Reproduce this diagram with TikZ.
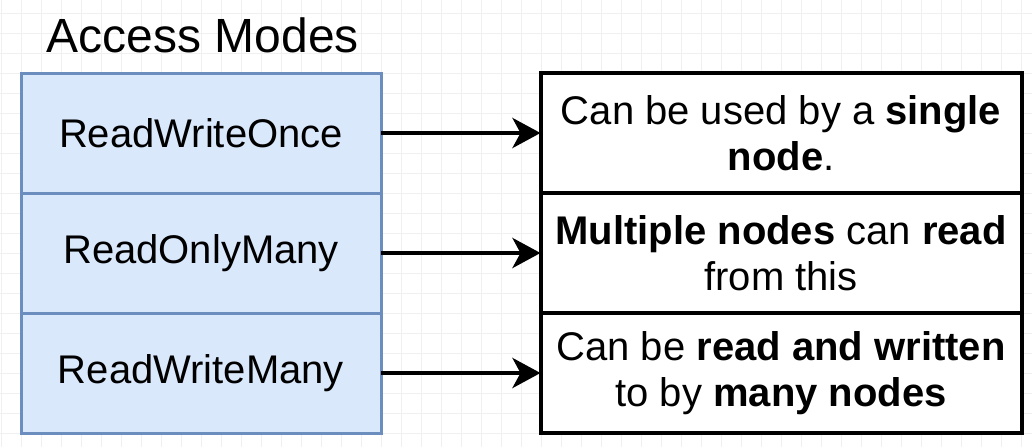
\documentclass[tikz,border=0pt]{standalone}
\usepackage{fontspec}
\setmainfont{Liberation Sans}
\usetikzlibrary{arrows.meta, positioning}
\definecolor{modefill}{HTML}{DAE8FC}
\definecolor{modeline}{HTML}{6C8EBF}
\definecolor{gridgray}{HTML}{F0F0F0}

\begin{document}
\begin{tikzpicture} [x=1pt, y=-1pt,
  mode/.style = {draw=modeline, fill=modefill, line width=3pt, outer sep=0pt, inner sep=0pt,
                 minimum width=360pt, minimum height=120pt, font=\fontsize{40}{47}\selectfont},
  desc/.style = {draw, fill=white, line width=4pt, outer sep=0pt, inner sep=0pt, align=center,
                 minimum width=481pt, minimum height=120pt, font=\fontsize{40}{46.5}\selectfont},
  link/.style = {line width=4.5pt, -{Stealth[length=28pt, width=30pt, inset=8pt]}}]
\useasboundingbox (0,0) rectangle (1032,447);
% background grid
\foreach \i in {0,...,51} \draw [gridgray, line width=1pt] (1.7+20*\i,0) -- (1.7+20*\i,447);
\foreach \j in {0,...,21} \draw [gridgray, line width=1pt] (0,13.3+20*\j) -- (1032,13.3+20*\j);

\node [font=\fontsize{48}{56}\selectfont] (title) at (203,35) {Access Modes};

\node [mode] (rwo) at (201,133) {ReadWriteOnce};
\node [mode, below=0pt of rwo] (rom) {ReadOnlyMany};
\node [mode, below=0pt of rom] (rwm) {ReadWriteMany};

\node [desc] (single) at (781,133) {Can be used by a \textbf{single}\\\textbf{node}.};
\node [desc, below=0pt of single] (multi) {\textbf{Multiple nodes} can \textbf{read}\\from this};
\node [desc, below=0pt of multi] (many) {Can be \textbf{read and written}\\to by \textbf{many nodes}};

\draw [link] (rwo) -- (single);
\draw [link] (rom) -- (multi);
\draw [link] (rwm) -- (many);
\end{tikzpicture}
\end{document}
